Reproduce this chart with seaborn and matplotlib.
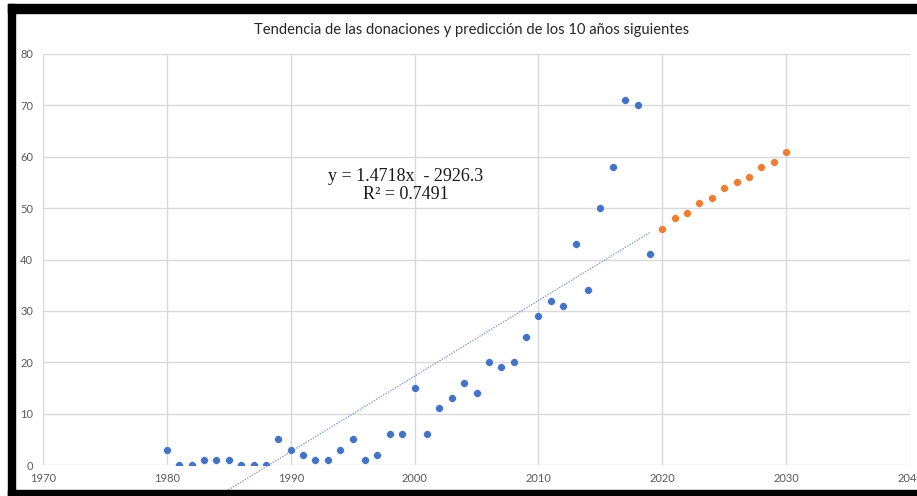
import numpy as np
import pandas as pd
import matplotlib
matplotlib.use("Agg")
import matplotlib.pyplot as plt
import seaborn as sns
from matplotlib.patches import Rectangle

# ---- data ----
years_obs = list(range(1980, 2020))
donations_obs = [3, 0, 0, 1, 1, 1, 0, 0, 0, 5,
                 3, 2, 1, 1, 3, 5, 1, 2, 6, 6,
                 15, 6, 11, 13, 16, 14, 20, 19, 20, 25,
                 29, 32, 31, 43, 34, 50, 58, 71, 70, 41]
years_pred = list(range(2020, 2031))
donations_pred = [46, 48, 49, 51, 52, 54, 55, 56, 58, 59, 61]
trend_slope = 1.4718
trend_intercept = -2926.3
r_squared = 0.7491
title = "Tendencia de las donaciones y predicción de los 10 años siguientes"
x_ticks = [1970, 1980, 1990, 2000, 2010, 2020, 2030, 2040]
y_ticks = [0, 10, 20, 30, 40, 50, 60, 70, 80]

BLUE = "#4472C4"
ORANGE = "#ED7D31"

sns.set_theme(style="whitegrid")
plt.rcParams['font.family'] = ['Lato', 'DejaVu Sans']

fig = plt.figure(figsize=(9.17, 4.96), dpi=100)
fig.patch.set_facecolor("white")
ax = fig.add_axes([43/917, 31/496, 867/917, 411/496])
ax.set_facecolor("white")

df_obs = pd.DataFrame({"year": years_obs, "value": donations_obs})
df_pred = pd.DataFrame({"year": years_pred, "value": donations_pred})

sns.scatterplot(data=df_obs, x="year", y="value", color=BLUE, s=32,
                edgecolor="white", linewidth=0.4, ax=ax, zorder=3)
sns.scatterplot(data=df_pred, x="year", y="value", color=ORANGE, s=32,
                edgecolor="white", linewidth=0.4, ax=ax, zorder=3)

# trend line over observed range
tx = np.array([min(years_obs), max(years_obs)], dtype=float)
ty = trend_slope * tx + trend_intercept
ax.plot(tx, ty, linestyle=(0, (1, 1.2)), color=BLUE, linewidth=0.9,
        clip_on=False, zorder=2, alpha=0.8)

ax.text(1999.3, 54.4,
        f"y = {trend_slope}x  - {abs(trend_intercept)}\nR² = {r_squared}",
        ha="center", va="center", fontsize=13, linespacing=1.1,
        family=["Liberation Serif", "DejaVu Serif"], color="#1a1a1a")

ax.set_xlim(1970, 2040)
ax.set_ylim(0, 80)
ax.set_xticks(x_ticks)
ax.set_yticks(y_ticks)
ax.set_xlabel("")
ax.set_ylabel("")
ax.grid(True, color="#d9d9d9", linewidth=1.0)
ax.set_axisbelow(True)
for s in ax.spines.values():
    s.set_visible(False)
ax.tick_params(axis="both", length=0, labelsize=8, labelcolor="#595959")
ax.tick_params(axis="y", pad=7)
ax.tick_params(axis="x", pad=6)

fig.text(472/917, 1 - 30/496, title, ha="center", va="center",
         fontsize=10.6, color="#262626")

# black frame (screenshot border)
fig.patches.append(Rectangle((8/917, 0), 7/917, 492/496, transform=fig.transFigure,
                             color="black", zorder=10))
fig.patches.append(Rectangle((8/917, 483/496), 909/917, 9/496, transform=fig.transFigure,
                             color="black", zorder=10))
fig.patches.append(Rectangle((8/917, 0), 909/917, 6/496, transform=fig.transFigure,
                             color="black", zorder=10))

fig.savefig("out.png", dpi=100)
